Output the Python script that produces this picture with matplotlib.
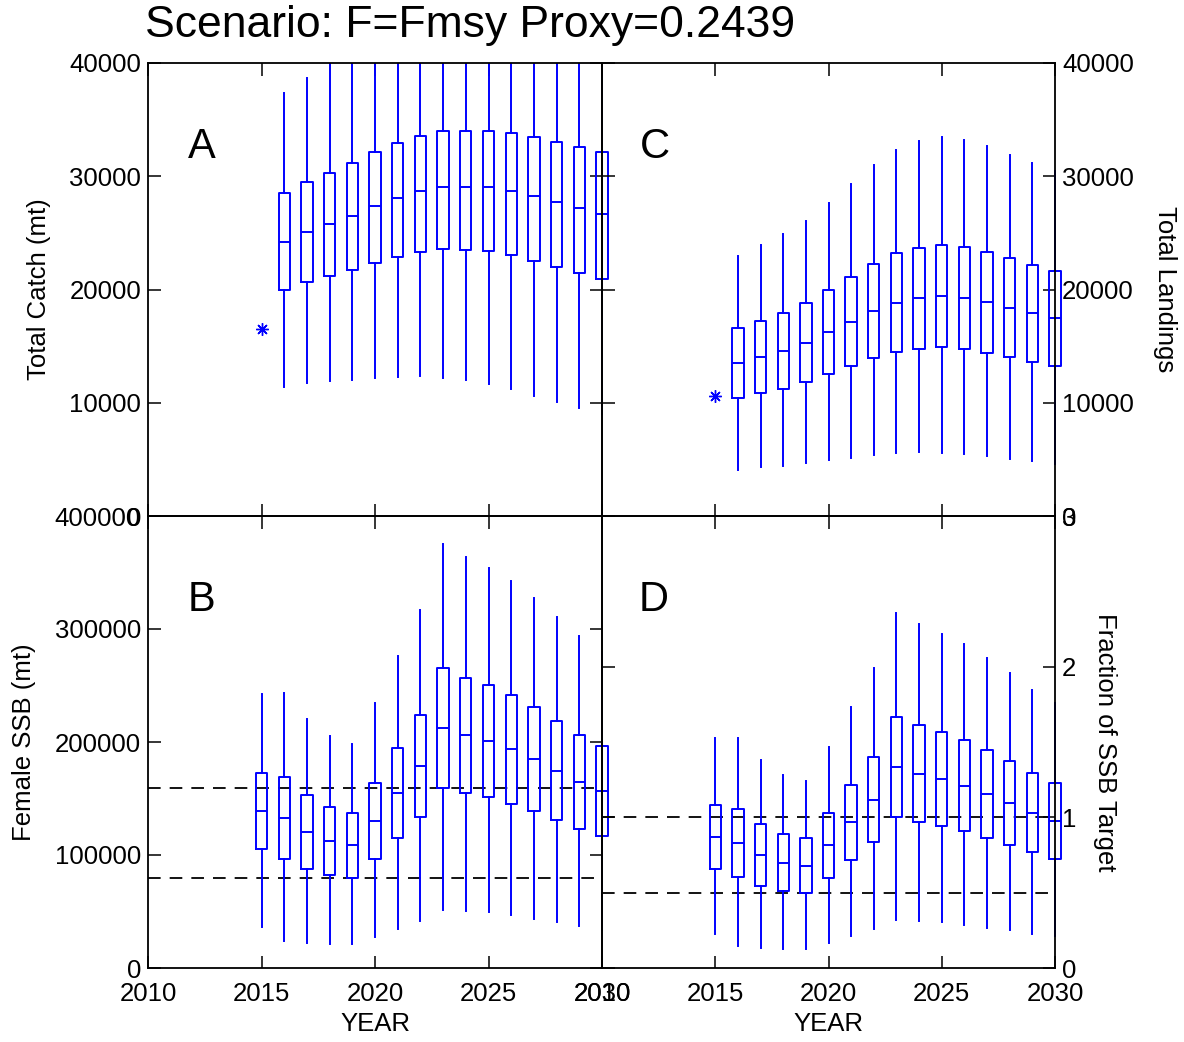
import matplotlib.pyplot as plt
from matplotlib.patches import Rectangle

plt.rcParams['font.family'] = ['Liberation Sans', 'DejaVu Sans']

# ---- data ----
years = list(range(2016, 2031))
years_ssb = list(range(2015, 2031))
year_ticks = [2010, 2015, 2020, 2025, 2030]
year_labels = ["2010", "2015", "2020", "2025", "2030"]

# A: total catch (mt)
catch_obs_year = 2015
catch_obs = 16500
catch_lo = [11400, 11760, 11910, 12030, 12170, 12260, 12320, 12200, 12000, 11670, 11170, 10640, 10110, 9550, 9050]
catch_q1 = [20000, 20690, 21190, 21720, 22370, 22900, 23350, 23550, 23520, 23400, 23020, 22550, 21990, 21490, 20960]
catch_med = [24230, 25090, 25790, 26500, 27350, 28090, 28680, 29030, 29090, 29030, 28710, 28300, 27770, 27240, 26710]
catch_q3 = [28480, 29510, 30330, 31160, 32100, 32950, 33570, 33960, 34020, 34020, 33810, 33430, 33040, 32570, 32130]
catch_hi = [37350, 38640, 40300, 41500, 42600, 43500, 44200, 44700, 45000, 45100, 45000, 44800, 44500, 44000, 43500]

# C: total landings
land_obs_year = 2015
land_obs = 10640
land_lo = [4070, 4300, 4450, 4660, 4920, 5160, 5390, 5570, 5630, 5600, 5450, 5280, 5040, 4830, 4630]
land_q1 = [10380, 10820, 11230, 11790, 12500, 13240, 13940, 14470, 14770, 14890, 14710, 14390, 14000, 13590, 13260]
land_med = [13470, 14060, 14590, 15300, 16210, 17160, 18130, 18840, 19250, 19430, 19250, 18870, 18390, 17890, 17480]
land_q3 = [16570, 17240, 17920, 18780, 19930, 21110, 22290, 23200, 23700, 23970, 23760, 23320, 22790, 22170, 21670]
land_hi = [22990, 23970, 24880, 26090, 27680, 29300, 30950, 32310, 33070, 33430, 33220, 32660, 31920, 31160, 30450]

# B: female SSB (mt)
ssb_lo = [36400, 24000, 22200, 21000, 21000, 27300, 34600, 41900, 51300, 50700, 49800, 47100, 43700, 40400, 37100, 33600]
ssb_q1 = [105100, 96600, 87800, 82000, 79600, 96300, 115100, 133600, 159500, 154600, 151300, 145200, 138500, 130600, 122700, 116600]
ssb_med = [138800, 132400, 120300, 112100, 108700, 130300, 154600, 178900, 212600, 205900, 200500, 193800, 185000, 174600, 164300, 156400]
ssb_q3 = [172200, 168600, 152800, 142400, 137600, 164000, 194400, 223500, 265100, 256900, 250300, 241800, 231100, 219000, 206200, 196500]
ssb_hi = [242700, 243300, 220200, 205000, 198000, 234500, 276400, 317100, 375400, 363600, 353800, 342600, 327700, 311000, 293400, 280000]
ssb_target = 159500
ssb_threshold = 79750

# D: fraction of SSB target
frac_lo = [0.224, 0.144, 0.130, 0.123, 0.125, 0.167, 0.212, 0.256, 0.317, 0.313, 0.308, 0.288, 0.267, 0.249, 0.228, 0.212]
frac_q1 = [0.657, 0.602, 0.545, 0.511, 0.500, 0.600, 0.719, 0.835, 0.999, 0.967, 0.945, 0.908, 0.862, 0.817, 0.767, 0.725]
frac_med = [0.869, 0.828, 0.753, 0.700, 0.680, 0.814, 0.967, 1.116, 1.332, 1.289, 1.257, 1.211, 1.157, 1.093, 1.029, 0.976]
frac_q3 = [1.079, 1.054, 0.954, 0.890, 0.860, 1.027, 1.214, 1.401, 1.663, 1.613, 1.565, 1.515, 1.449, 1.371, 1.291, 1.230]
frac_hi = [1.524, 1.524, 1.380, 1.284, 1.239, 1.469, 1.734, 1.992, 2.357, 2.284, 2.218, 2.149, 2.058, 1.955, 1.843, 1.757]
frac_target = 1.0
frac_threshold = 0.5

BLUE = (0, 0, 1)
FS = 18.5


def boxes(ax, pos, lo, q1, med, q3, hi):
    stats = [dict(whislo=a, q1=b, med=c, q3=d, whishi=e, fliers=[])
             for a, b, c, d, e in zip(lo, q1, med, q3, hi)]
    props = dict(color=BLUE, lw=1.4)
    art = ax.bxp(stats, positions=pos, widths=0.5, showfliers=False, showcaps=False,
                 boxprops=props, whiskerprops=props, medianprops=props,
                 manage_ticks=False)
    # clip only vertically, like the original figure
    clip = Rectangle((-0.05, 0), 1.1, 1, transform=ax.transAxes,
                     facecolor='none', edgecolor='none')
    for group in art.values():
        for a in group:
            a.set_clip_path(clip)


def setup(ax, ylim, yticks, right=False, xlabels=False):
    ax.set_facecolor('none')
    ax.set_xlim(2010, 2030)
    ax.set_ylim(*ylim)
    ax.set_xticks(year_ticks)
    ax.set_xticklabels(year_labels)
    ax.set_yticks(yticks)
    ax.set_yticklabels([str(t) for t in yticks])
    ax.tick_params(direction='in', length=9, width=1.1, top=True, right=True,
                   labelsize=FS, colors='black')
    ax.tick_params(axis='x', pad=10, labelbottom=xlabels)
    ax.tick_params(axis='y', pad=5, labelleft=not right, labelright=right)
    for s in ax.spines.values():
        s.set_linewidth(1.3)


fig = plt.figure(figsize=(11.84, 10.42), dpi=100)
L, M, R = 148 / 1184, 602 / 1184, 1055 / 1184
T, MID, BOT = 1 - 63 / 1042, 1 - 516 / 1042, 1 - 968 / 1042

axA = fig.add_axes([L, MID, M - L, T - MID])
axC = fig.add_axes([M, MID, R - M, T - MID])
axB = fig.add_axes([L, BOT, M - L, MID - BOT])
axD = fig.add_axes([M, BOT, R - M, MID - BOT])

# A
setup(axA, (0, 40000), [0, 10000, 20000, 30000, 40000])
boxes(axA, years, catch_lo, catch_q1, catch_med, catch_q3, catch_hi)
axA.plot([catch_obs_year], [catch_obs], ls='none', marker=(8, 2, 0), ms=9, mew=1.0, color=BLUE)
axA.set_ylabel("Total Catch (mt)", fontsize=FS)
axA.yaxis.set_label_coords(-0.214, 0.5)
axA.text(0.088, 0.79, "A", transform=axA.transAxes, fontsize=30, va='baseline')

# C
setup(axC, (0, 40000), [0, 10000, 20000, 30000, 40000], right=True)
boxes(axC, years, land_lo, land_q1, land_med, land_q3, land_hi)
axC.plot([land_obs_year], [land_obs], ls='none', marker=(8, 2, 0), ms=9, mew=1.0, color=BLUE)
axC.yaxis.set_label_position('right')
axC.set_ylabel("Total Landings", fontsize=FS, rotation=270, va='center')
axC.yaxis.set_label_coords(1.243, 0.5)
axC.text(0.084, 0.79, "C", transform=axC.transAxes, fontsize=30, va='baseline')

# B
setup(axB, (0, 400000), [0, 100000, 200000, 300000, 400000], xlabels=True)
axB.axhline(ssb_target, color='black', lw=1.3, dashes=(7, 5))
axB.axhline(ssb_threshold, color='black', lw=1.3, dashes=(7, 5))
boxes(axB, years_ssb, ssb_lo, ssb_q1, ssb_med, ssb_q3, ssb_hi)
axB.set_ylabel("Female SSB (mt)", fontsize=FS)
axB.yaxis.set_label_coords(-0.247, 0.5)
axB.set_xlabel("YEAR", fontsize=FS)
axB.xaxis.set_label_coords(0.5, -0.098)
axB.text(0.088, 0.79, "B", transform=axB.transAxes, fontsize=30, va='baseline')

# D
setup(axD, (0, 3), [0, 1, 2, 3], right=True, xlabels=True)
axD.axhline(frac_target, color='black', lw=1.3, dashes=(7, 5))
axD.axhline(frac_threshold, color='black', lw=1.3, dashes=(7, 5))
boxes(axD, years_ssb, frac_lo, frac_q1, frac_med, frac_q3, frac_hi)
axD.yaxis.set_label_position('right')
axD.set_ylabel("Fraction of SSB Target", fontsize=FS, rotation=270, va='center')
axD.yaxis.set_label_coords(1.11, 0.5)
axD.set_xlabel("YEAR", fontsize=FS)
axD.xaxis.set_label_coords(0.5, -0.098)
axD.text(0.08, 0.79, "D", transform=axD.transAxes, fontsize=30, va='baseline')

fig.text(145 / 1184, 1 - 26 / 1042, "Scenario: F=Fmsy Proxy=0.2439", fontsize=32,
         ha='left', va='center')

fig.savefig("out.png", dpi=100, facecolor='white')
